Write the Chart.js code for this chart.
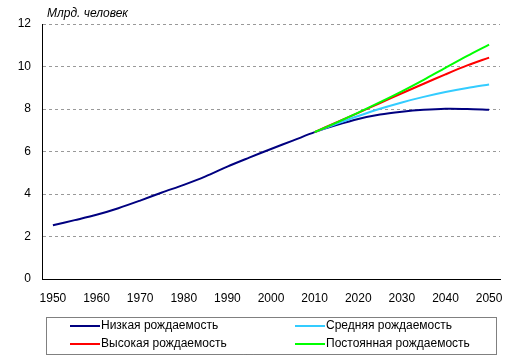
<!DOCTYPE html>
<html>
<head>
<meta charset="utf-8">
<script src="https://cdn.jsdelivr.net/npm/chart.js"></script>
<style>
  html, body { margin: 0; padding: 0; background: #fff; }
  #wrap { width: 515px; height: 363px; position: relative; }
</style>
</head>
<body>
<div id="wrap"><canvas id="chart"></canvas></div>
<script>
const years = [1950, 1955, 1960, 1965, 1970, 1975, 1980, 1985, 1990, 1995, 2000,
  2005, 2010, 2015, 2020, 2025, 2030, 2035, 2040, 2045, 2050];

// млрд. человек
const lowFert = [2.53, 2.77, 3.02, 3.33, 3.69, 4.07, 4.43, 4.83, 5.29, 5.71, 6.12,
  6.51, 6.91, 7.24, 7.53, 7.74, 7.87, 7.96, 8.01, 8.00, 7.96];
const medFert = [null, null, null, null, null, null, null, null, null, null, null,
  null, 6.91, 7.30, 7.67, 8.01, 8.31, 8.57, 8.80, 8.99, 9.15];
const highFert = [null, null, null, null, null, null, null, null, null, null, null,
  null, 6.91, 7.37, 7.82, 8.28, 8.74, 9.19, 9.63, 10.05, 10.42];
const constFert = [null, null, null, null, null, null, null, null, null, null, null,
  null, 6.91, 7.36, 7.83, 8.32, 8.83, 9.37, 9.94, 10.50, 11.03];

const seriesNames = ["Низкая рождаемость", "Средняя рождаемость", "Высокая рождаемость", "Постоянная рождаемость"];
const seriesColors = ["#000080", "#33ccff", "#ff0000", "#00ff00"];
const yTicks = [0, 2, 4, 6, 8, 10, 12];

const FONT = "'Liberation Sans', Arial, sans-serif";

// legend box in two columns, dotted frame
const legendBox = {
  id: "legendBox",
  afterDraw(chart) {
    const ctx = chart.ctx;
    ctx.save();
    ctx.strokeStyle = "#000";
    ctx.lineWidth = 1;
    ctx.setLineDash([1, 1]);
    ctx.strokeRect(46.5, 317.5, 450, 37);
    ctx.setLineDash([]);
    const cols = [70, 295];
    const rows = [326, 344];
    ctx.font = "12px " + FONT;
    ctx.textBaseline = "middle";
    chart.data.datasets.forEach((ds, i) => {
      const x = cols[i % 2], y = rows[Math.floor(i / 2)];
      ctx.strokeStyle = ds.borderColor;
      ctx.lineWidth = 2;
      ctx.beginPath();
      ctx.moveTo(x, y);
      ctx.lineTo(x + 30, y);
      ctx.stroke();
      ctx.fillStyle = "#000";
      ctx.fillText(ds.label, x + 31, y);
    });
    // axis title
    ctx.font = "italic 12px " + FONT;
    ctx.textBaseline = "alphabetic";
    ctx.fillText("Млрд. человек", 47, 17);
    ctx.restore();
  }
};

const series = [lowFert, medFert, highFert, constFert];
const drawOrder = [3, 2, 1, 0];

new Chart(document.getElementById("chart"), {
  type: "line",
  data: {
    labels: years,
    datasets: series.map((d, i) => ({
      label: seriesNames[i],
      data: d,
      borderColor: seriesColors[i],
      backgroundColor: seriesColors[i],
      borderWidth: 2,
      pointRadius: 0,
      tension: 0.3,
      fill: false,
      order: drawOrder[i]
    }))
  },
  options: {
    responsive: true,
    maintainAspectRatio: false,
    animation: false,
    layout: { padding: { top: 24, right: 15, bottom: 54, left: 0 } },
    plugins: { legend: { display: false }, tooltip: { enabled: false } },
    scales: {
      x: {
        type: "category",
        offset: true,
        afterFit: (s) => { s.height = 30; },
        grid: { display: false, drawTicks: false },
        border: { display: true, color: "#000", width: 1 },
        ticks: {
          autoSkip: false,
          maxRotation: 0,
          padding: 12,
          color: "#000",
          font: { family: FONT, size: 12 },
          callback: function (v, i) { return i % 2 === 0 ? this.getLabelForValue(v) : ""; }
        }
      },
      y: {
        min: 0,
        max: 12,
        afterFit: (s) => { s.width = 42; },
        afterBuildTicks: (s) => { s.ticks = yTicks.map(v => ({ value: v })); },
        grid: { color: "#999", drawTicks: false },
        border: { display: true, color: "#000", width: 1, dash: [3, 3] },
        ticks: {
          padding: 11,
          color: "#000",
          font: { family: FONT, size: 12 }
        }
      }
    }
  },
  plugins: [legendBox]
});
</script>
</body>
</html>
